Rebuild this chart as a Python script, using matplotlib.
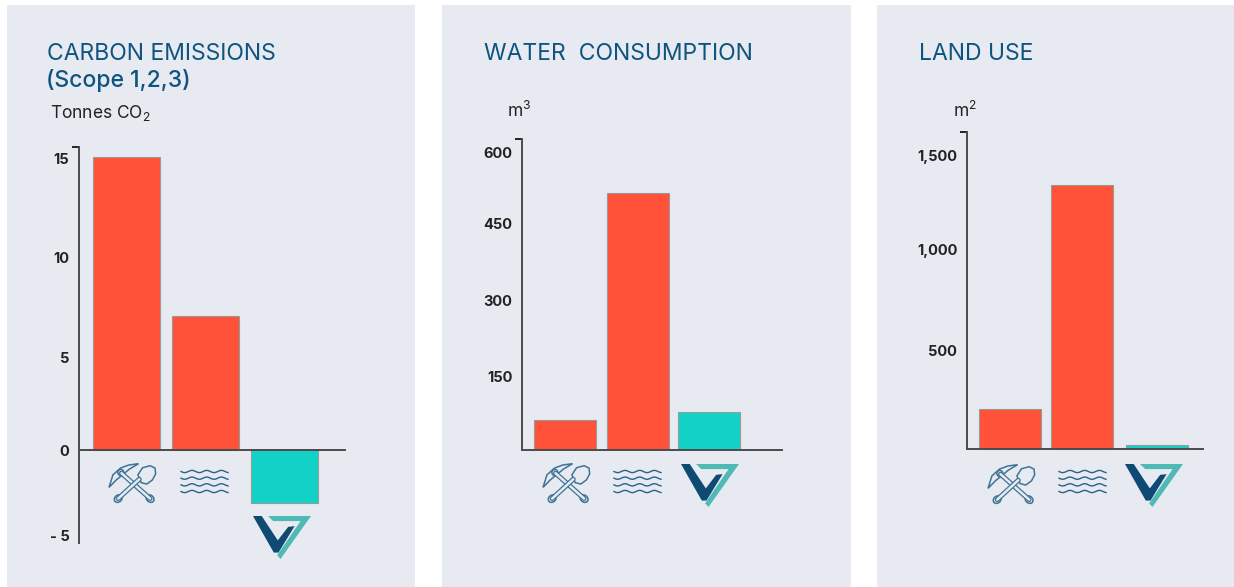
import numpy as np
import matplotlib
matplotlib.use('Agg')
import matplotlib.pyplot as plt
from matplotlib.patches import Polygon, Rectangle, Ellipse

W, H = 1234, 587

# bar values
carbon_values = [15.0, 6.85, -2.7]
water_values = [60, 517, 76]
land_values = [204, 1347, 20]

# tick positions as they sit on the picture, with their printed labels
carbon_ticks = [14.9, 9.83, 4.76, 0, -4.4]
carbon_labels = ['15', '10', '5', '0', '- 5']
water_ticks = [147, 300, 456, 600]
water_labels = ['150', '300', '450', '600']
land_ticks = [500, 1020, 1500]
land_labels = ['500', '1,000', '1,500']

bar_colors = ['#ff5238', '#ff5238', '#12d2c8']
PANEL = '#e7eaf0'
TITLE = '#0f5480'
AXIS = '#4a4a4a'
ICON = '#3f7496'
DARK = '#0e4a73'
TEAL = '#4fb9b6'

plt.rcParams['font.family'] = ['Inter', 'DejaVu Sans']
plt.rcParams['mathtext.default'] = 'regular'

fig = plt.figure(figsize=(W / 100, H / 100), dpi=100, facecolor='white')

# pixel overlay for panels, titles and icons
bg = fig.add_axes([0, 0, 1, 1], zorder=0)
bg.set_xlim(0, W)
bg.set_ylim(H, 0)
bg.axis('off')

for x0, x1 in [(7, 415), (442, 851), (877, 1234)]:
    bg.add_patch(Rectangle((x0, 5), x1 - x0, H - 5, color=PANEL, lw=0))


def pick_icon(x, y, w=47, h=40):
    sx, sy = w / 143, h / 118

    def p(a, b):
        return x + a * sx, y + b * sy

    def handle(a, b):
        xs, ys = zip(p(*a), p(*b))
        bg.plot(xs, ys, color=ICON, lw=3.6, solid_capstyle='round')
        bg.plot(xs, ys, color=PANEL, lw=1.8, solid_capstyle='round')

    # pick
    handle((38, 30), (125, 105))
    head = np.array([(0, 72), (12, 35), (35, 15), (60, 6), (90, 2), (62, 18), (45, 32), (22, 50)])
    bg.add_patch(Polygon([p(*c) for c in head], fc=PANEL, ec=ICON, lw=1.1))
    bg.add_patch(Ellipse(p(36, 28), 9 * sx * 2, 9 * sy * 2, fc=PANEL, ec=ICON, lw=1.1))
    bg.add_patch(Ellipse(p(125, 105), 26 * sx, 20 * sy, angle=40, fc=PANEL, ec=ICON, lw=1.1))
    # shovel
    handle((28, 105), (92, 48))
    blade = [(88, 35), (102, 14), (125, 8), (140, 15), (142, 32), (132, 50), (115, 62), (98, 58)]
    bg.add_patch(Polygon([p(*c) for c in blade], fc=PANEL, ec=ICON, lw=1.1))
    bg.add_patch(Ellipse(p(28, 105), 26 * sx, 20 * sy, angle=-40, fc=PANEL, ec=ICON, lw=1.1))


def wave_icon(x, y, w=47, h=23):
    t = np.linspace(0, 1, 80)
    for i in range(4):
        yy = y + 1.5 + i * (h - 3) / 3 + 1.1 * np.sin(t * 2 * np.pi * 3.2)
        bg.plot(x + t * w, yy, color='#2a6289', lw=1.0)


def logo_icon(x, y, w=58, h=43):
    sx, sy = w / 173, h / 127

    def p(pts):
        return [(x + a * sx, y + b * sy) for a, b in pts]

    bg.add_patch(Polygon(p([(45, 0), (173, 0), (82, 127), (72, 116), (142, 15), (60, 15)]), fc=TEAL, lw=0))
    bg.add_patch(Polygon(p([(0, 0), (26, 0), (74, 72), (105, 32), (124, 30), (76, 108), (62, 108)]), fc=DARK, lw=0))


def draw_bars(x0, x1, top, bottom, zero_y, unit, centers, bar_w, values, ticks, labels):
    # axes rectangle and limits follow from pixel geometry of the axis lines
    ax = fig.add_axes([x0 / W, 1 - bottom / H, (x1 - x0) / W, (bottom - top) / H], zorder=1)
    ax.patch.set_visible(False)
    step = centers[1] - centers[0]
    ax.set_xlim((x0 - centers[0]) / step, (x1 - centers[0]) / step)
    ax.set_ylim((zero_y - bottom) / unit, (zero_y - top) / unit)
    pos = [(c - centers[0]) / step for c in centers]
    ax.bar(pos, values, width=bar_w / step, color=bar_colors, edgecolor='#9a9a9a', linewidth=0.8, zorder=2)

    for s in ['top', 'right']:
        ax.spines[s].set_visible(False)
    ax.spines['bottom'].set_position(('data', 0))
    ax.spines['left'].set_color(AXIS)
    ax.spines['bottom'].set_color(AXIS)
    ax.spines['left'].set_linewidth(1.4)
    ax.spines['bottom'].set_linewidth(1.4)
    ax.spines['bottom'].set_zorder(3)

    ax.set_xticks([])
    ax.set_yticks(ticks, labels, fontweight='bold', fontsize=10.5, color='#222222')
    ax.tick_params(axis='y', which='major', length=0, pad=7)
    ax.set_yticks([(zero_y - top) / unit], minor=True)
    ax.tick_params(axis='y', which='minor', length=5, width=1.4, color='#222222')
    return ax


draw_bars(79, 345, 147, 543, 450, 293 / 15, [126.5, 205.5, 284.5], 67,
          carbon_values, carbon_ticks, carbon_labels)
draw_bars(522, 782, 139, 450, 450, 298 / 600, [565, 638, 709], 62,
          water_values, water_ticks, water_labels)
draw_bars(967, 1203, 132, 449, 449, 294 / 1500, [1010, 1082, 1157], 62,
          land_values, land_ticks, land_labels)

title_kw = dict(color=TITLE, fontsize=16.5, va='center', ha='left')
bg.text(47, 54, 'CARBON EMISSIONS', **title_kw)
bg.text(46, 81, '(Scope 1,2,3)', fontweight='medium', **title_kw)
bg.text(484, 54, 'WATER  CONSUMPTION', **title_kw)
bg.text(919, 54, 'LAND USE', **title_kw)

unit_kw = dict(color='#222222', fontsize=12.5, va='center', ha='left')
bg.text(50, 113, 'Tonnes CO$_2$', **unit_kw)
bg.text(507, 111, 'm$^3$', **unit_kw)
bg.text(953, 111, 'm$^2$', **unit_kw)

pick_icon(109, 463)
wave_icon(181, 470)
logo_icon(253, 516)
pick_icon(543, 463)
wave_icon(614, 470)
logo_icon(681, 464)
pick_icon(988, 464)
wave_icon(1059, 470)
logo_icon(1125, 464)

fig.savefig('out.png', dpi=100, facecolor='white')
